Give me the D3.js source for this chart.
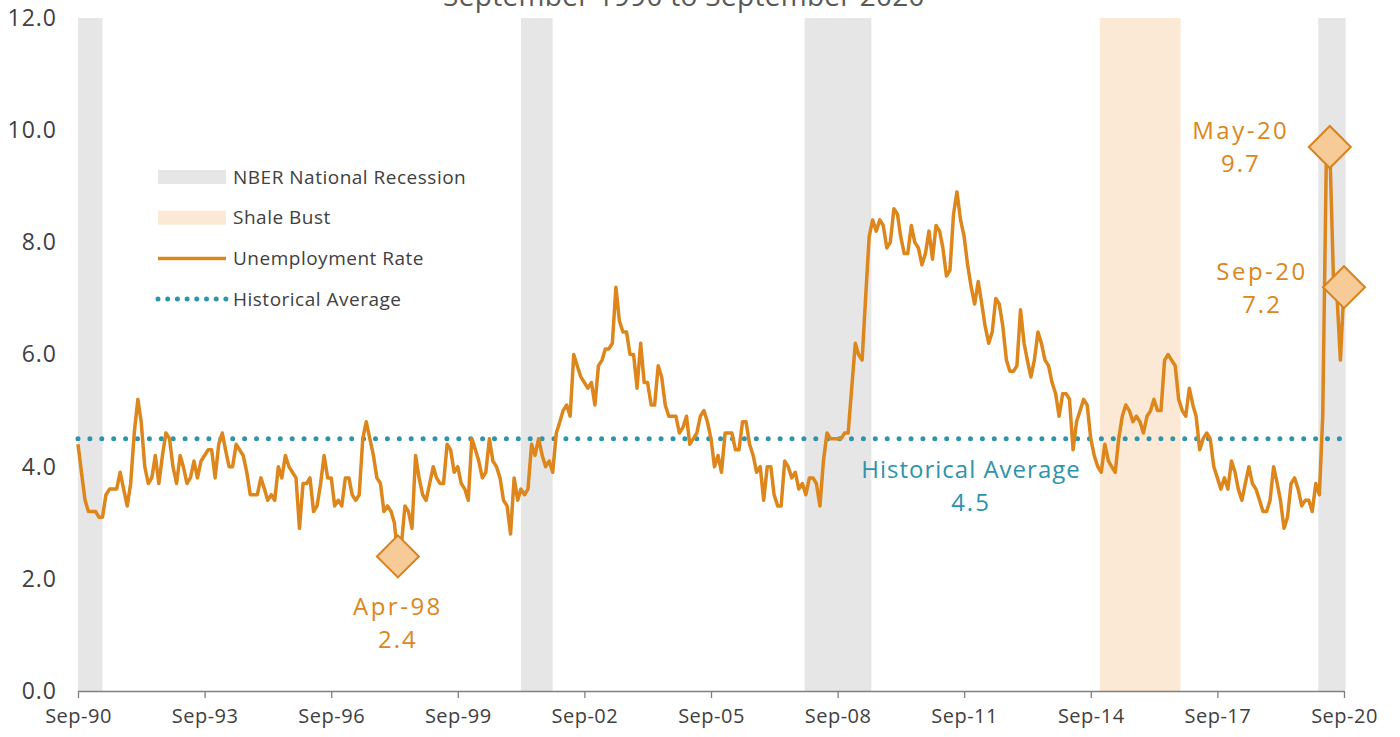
<!DOCTYPE html>
<html>
<head>
<meta charset="utf-8">
<script src="https://cdn.jsdelivr.net/npm/d3@7"></script>
<style>
  body { margin: 0; background: #fff; }
  svg { display: block; font-family: "Open Sans", sans-serif; }
</style>
</head>
<body>
<div id="chart"></div>
<script>
// monthly unemployment rate, Sep-90 .. Sep-20 (one row = Sep..Aug)
const firstMonth = "Sep-90";
const unemployment = [
  4.4, 3.9, 3.4, 3.2, 3.2, 3.2, 3.1, 3.1, 3.5, 3.6, 3.6, 3.6,
  3.9, 3.6, 3.3, 3.7, 4.6, 5.2, 4.8, 4.0, 3.7, 3.8, 4.2, 3.7,
  4.2, 4.6, 4.5, 4.0, 3.7, 4.2, 4.0, 3.7, 3.8, 4.1, 3.8, 4.1,
  4.2, 4.3, 4.3, 3.8, 4.4, 4.6, 4.3, 4.0, 4.0, 4.4, 4.3, 4.2,
  3.9, 3.5, 3.5, 3.5, 3.8, 3.6, 3.4, 3.5, 3.4, 4.0, 3.8, 4.2,
  4.0, 3.9, 3.8, 2.9, 3.7, 3.7, 3.8, 3.2, 3.3, 3.7, 4.2, 3.8,
  3.8, 3.3, 3.4, 3.3, 3.8, 3.8, 3.5, 3.4, 3.5, 4.5, 4.8, 4.5,
  4.2, 3.8, 3.7, 3.2, 3.3, 3.2, 3.0, 2.4, 2.6, 3.3, 3.2, 2.9,
  4.2, 3.8, 3.5, 3.4, 3.7, 4.0, 3.8, 3.7, 3.7, 4.4, 4.3, 3.9,
  4.0, 3.7, 3.6, 3.4, 4.5, 4.3, 4.1, 3.8, 3.9, 4.5, 4.1, 4.0,
  3.8, 3.4, 3.3, 2.8, 3.8, 3.4, 3.6, 3.5, 3.6, 4.4, 4.2, 4.5,
  4.2, 4.0, 4.1, 3.9, 4.6, 4.8, 5.0, 5.1, 4.9, 6.0, 5.8, 5.6,
  5.5, 5.4, 5.5, 5.1, 5.8, 5.9, 6.1, 6.1, 6.2, 7.2, 6.6, 6.4,
  6.4, 6.0, 6.0, 5.4, 6.2, 5.5, 5.5, 5.1, 5.1, 5.8, 5.6, 5.1,
  4.9, 4.9, 4.9, 4.6, 4.7, 4.9, 4.4, 4.5, 4.6, 4.9, 5.0, 4.8,
  4.5, 4.0, 4.2, 3.9, 4.6, 4.6, 4.6, 4.3, 4.3, 4.8, 4.8, 4.4,
  4.2, 3.9, 4.0, 3.4, 4.0, 4.0, 3.5, 3.3, 3.3, 4.1, 4.0, 3.8,
  3.9, 3.6, 3.7, 3.5, 3.8, 3.8, 3.7, 3.3, 4.1, 4.6, 4.5, 4.5,
  4.5, 4.5, 4.6, 4.6, 5.4, 6.2, 6.0, 5.9, 7.0, 8.1, 8.4, 8.2,
  8.4, 8.3, 7.9, 8.0, 8.6, 8.5, 8.1, 7.8, 7.8, 8.3, 8.0, 7.9,
  7.6, 7.8, 8.2, 7.7, 8.3, 8.2, 7.9, 7.4, 7.5, 8.5, 8.9, 8.4,
  8.1, 7.6, 7.2, 6.9, 7.3, 6.9, 6.5, 6.2, 6.4, 7.0, 6.9, 6.5,
  5.9, 5.7, 5.7, 5.8, 6.8, 6.2, 5.9, 5.6, 5.9, 6.4, 6.2, 5.9,
  5.8, 5.5, 5.3, 4.9, 5.3, 5.3, 5.2, 4.3, 4.8, 5.0, 5.2, 5.1,
  4.5, 4.2, 4.0, 3.9, 4.4, 4.1, 4.0, 3.9, 4.5, 4.9, 5.1, 5.0,
  4.8, 4.9, 4.8, 4.6, 4.9, 5.0, 5.2, 5.0, 5.0, 5.9, 6.0, 5.9,
  5.8, 5.2, 5.0, 4.9, 5.4, 5.1, 4.9, 4.3, 4.5, 4.6, 4.5, 4.0,
  3.8, 3.6, 3.8, 3.6, 4.1, 3.9, 3.6, 3.4, 3.7, 4.0, 3.7, 3.6,
  3.4, 3.2, 3.2, 3.4, 4.0, 3.7, 3.4, 2.9, 3.1, 3.7, 3.8, 3.6,
  3.3, 3.4, 3.4, 3.2, 3.7, 3.5, 4.9, 9.5, 9.7, 7.4, 7.1, 5.9,
  7.2
];
const historicalAverage = 4.5;

const recessions = [
  ["1990-09-01", "1991-04-01"],
  ["2001-03-01", "2001-11-30"],
  ["2007-11-20", "2009-06-20"],
  ["2020-01-22", "2020-09-15"]
];
const shaleBust = [["2014-11-18", "2016-10-18"]];

const tickLabels = ["Sep-90", "Sep-93", "Sep-96", "Sep-99", "Sep-02", "Sep-05",
  "Sep-08", "Sep-11", "Sep-14", "Sep-17", "Sep-20"];
const yTicks = [0, 2, 4, 6, 8, 10, 12];
const highlighted = ["Apr-98", "May-20", "Sep-20"];
const legendItems = ["NBER National Recession", "Shale Bust", "Unemployment Rate", "Historical Average"];

const width = 1400;
const height = 737;
const orange = "#dc861c";
const teal = "#2f93aa";
const textGray = "#404040";

const parseMonth = d3.timeParse("%b-%y");
const parseDay = d3.timeParse("%Y-%m-%d");
const fmtMonth = d3.timeFormat("%b-%y");

const start = parseMonth(firstMonth);
const series = unemployment.map((v, i) => ({ date: d3.timeMonth.offset(start, i), value: v }));
const end = series[series.length - 1].date;

const x = d3.scaleTime().domain([start, end]).range([78, 1344]);
const y = d3.scaleLinear().domain([0, 12]).range([691, 18]);

const svg = d3.select("#chart").append("svg")
    .attr("width", width)
    .attr("height", height);

// shaded periods
const bands = (data, color) => {
    svg.append("g").selectAll("rect")
        .data(data)
        .join("rect")
        .attr("x", d => x(parseDay(d[0])))
        .attr("width", d => x(parseDay(d[1])) - x(parseDay(d[0])))
        .attr("y", y(12))
        .attr("height", y(0) - y(12))
        .attr("fill", color);
}
bands(recessions, "#e6e6e6");
bands(shaleBust, "#fbe9d5");

// title, cut off by the top edge like in the original
svg.append("text")
    .attr("x", 684)
    .attr("y", 6)
    .attr("text-anchor", "middle")
    .attr("font-size", 28)
    .attr("letter-spacing", 0.3)
    .attr("fill", "#595959")
    .text("September 1990 to September 2020");

// axes
const xAxis = svg.append("g")
    .attr("transform", `translate(0,${y(0)})`)
    .call(d3.axisBottom(x)
        .tickValues(tickLabels.map(parseMonth))
        .tickFormat(fmtMonth)
        .tickSize(7)
        .tickSizeOuter(0)
        .tickPadding(11));
xAxis.select(".domain").attr("stroke", "#7f7f7f").attr("stroke-width", 1.3);
xAxis.selectAll(".tick line").attr("stroke", "#7f7f7f").attr("stroke-width", 1.3);
xAxis.selectAll(".tick text")
    .attr("font-size", 20)
    .attr("letter-spacing", 0.5)
    .attr("fill", textGray)
    .attr("font-family", "Open Sans");

const yAxis = svg.append("g")
    .attr("transform", "translate(78,0)")
    .call(d3.axisLeft(y)
        .tickValues(yTicks)
        .tickFormat(d3.format(".1f"))
        .tickSize(0)
        .tickPadding(21));
yAxis.select(".domain").remove();
yAxis.selectAll(".tick text")
    .attr("font-size", 23)
    .attr("letter-spacing", 1)
    .attr("fill", textGray)
    .attr("font-family", "Open Sans");

// historical average (dotted)
svg.append("line")
    .attr("x1", x(start))
    .attr("x2", x(end))
    .attr("y1", y(historicalAverage))
    .attr("y2", y(historicalAverage))
    .attr("stroke", teal)
    .attr("stroke-width", 5)
    .attr("stroke-linecap", "round")
    .attr("stroke-dasharray", "0 11.9");

// unemployment line
svg.append("path")
    .datum(series)
    .attr("fill", "none")
    .attr("stroke", orange)
    .attr("stroke-width", 3.5)
    .attr("stroke-linejoin", "round")
    .attr("d", d3.line().x(d => x(d.date)).y(d => y(d.value)));

// highlighted months
const marks = highlighted.map(label => series.find(d => fmtMonth(d.date) === label));
svg.append("g").selectAll("path")
    .data(marks)
    .join("path")
    .attr("d", d3.symbol(d3.symbolSquare, 880))
    .attr("transform", d => `translate(${x(d.date)},${y(d.value)}) rotate(45)`)
    .attr("fill", "#f6cb98")
    .attr("stroke", "#d9821c")
    .attr("stroke-width", 2);

// two-line labels drawn as separate texts
const twoLines = (cx, cy, lines, color, spacing) => {
    lines.forEach((line, j) => {
        svg.append("text")
            .attr("x", cx)
            .attr("y", cy + j * 33)
            .attr("dy", "0.35em")
            .attr("text-anchor", "middle")
            .attr("font-size", 24)
            .attr("letter-spacing", spacing[j])
            .attr("fill", color)
            .text(line);
    });
}

const labelOffsets = [[0, 50], [-89, -16], [-82, -16]];
marks.forEach((d, i) => {
    const [dx, dy] = labelOffsets[i];
    twoLines(x(d.date) + dx, y(d.value) + dy,
        [fmtMonth(d.date), d3.format(".1f")(d.value)], orange, [2.5, 2]);
});

twoLines(971, y(historicalAverage) + 31,
    ["Historical Average", d3.format(".1f")(historicalAverage)], teal, [1, 2]);

// legend
const legend = svg.append("g").attr("transform", "translate(158,177)");
legendItems.forEach((name, i) => {
    const g = legend.append("g").attr("transform", `translate(0,${i * 40.7})`);
    if (i < 2) {
        g.append("rect")
            .attr("x", 0).attr("y", -7)
            .attr("width", 68).attr("height", 14)
            .attr("fill", i === 0 ? "#e6e6e6" : "#fbe9d5");
    } else if (i === 2) {
        g.append("line")
            .attr("x1", 0).attr("x2", 68)
            .attr("stroke", orange).attr("stroke-width", 3.5);
    } else {
        g.append("line")
            .attr("x1", 0).attr("x2", 68)
            .attr("stroke", teal).attr("stroke-width", 5)
            .attr("stroke-linecap", "round")
            .attr("stroke-dasharray", "0 9.7");
    }
    g.append("text")
        .attr("x", 75)
        .attr("dy", "0.35em")
        .attr("font-size", 19)
        .attr("letter-spacing", 0.5)
        .attr("fill", textGray)
        .text(name);
});
</script>
</body>
</html>
